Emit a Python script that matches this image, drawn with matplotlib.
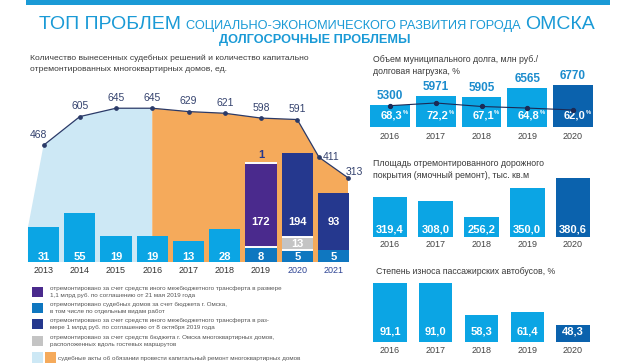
import numpy as np
import matplotlib
matplotlib.use('Agg')
import matplotlib.pyplot as plt
from matplotlib.patches import Rectangle

plt.rcParams['font.family'] = ['Liberation Sans', 'DejaVu Sans']

# ============================================================================
# DATA
# ============================================================================
years = [2013, 2014, 2015, 2016, 2017, 2018, 2019, 2020, 2021]
court_acts = [468, 605, 645, 645, 629, 621, 598, 591, 411, 313]
court_pos = [2013, 2014, 2015, 2016, 2017, 2018, 2019, 2020, 2020.6, 2021.4]
rep_city = [31, 55, 19, 19, 13, 28, 8, 5, 5]
rep_guest = [0, 0, 0, 0, 0, 0, 0, 13, 0]
rep_may = [0, 0, 0, 0, 0, 0, 172, 0, 0]
rep_oct = [0, 0, 0, 0, 0, 0, 1, 194, 93]

r_years = ['2016', '2017', '2018', '2019', '2020']
debt = [5300, 5971, 5905, 6565, 6770]
debt_load = [68.3, 72.2, 67.1, 64.8, 62.0]
road = [319.4, 308.0, 256.2, 350.0, 380.6]
bus_wear = [91.1, 91.0, 58.3, 61.4, 48.3]

legend_txt = [
    ('отремонтировано за счет средств иного межбюджетного трансферта в размере',
     '1,1 млрд руб. по соглашению от 21 мая 2019 года'),
    ('отремонтировано судебных домов за счет бюджета г. Омска,',
     'в том числе по отдельным видам работ'),
    ('отремонтировано за счет средств иного межбюджетного трансферта в раз-',
     'мере 1 млрд руб. по соглашению от 8 октября 2019 года'),
    ('отремонтировано за счет средств бюджета г. Омска многоквартирных домов,',
     'расположенных вдоль гостевых маршрутов'),
]
legend_last = 'судебные акты об обязании провести капитальный ремонт многоквартирных домов'

# ============================================================================
# STYLE
# ============================================================================
TITLE = '#1a9ad6'
CYAN = '#0ba5e4'
DARK = '#0b62ad'
CITY = '#0f77c0'
GUEST = '#c4c4c4'
MAY = '#4a2a8d'
OCT = '#25388e'
LBLUE = '#cde8f5'
ORANGE = '#f5aa5b'
LINE = '#2b3a68'
TXT = '#3a3a3a'

W, H = 620, 364
fig = plt.figure(figsize=(W / 100, H / 100), dpi=100)

def ax_px(l, t, r, b):
    return fig.add_axes([l / W, 1 - b / H, (r - l) / W, (b - t) / H])

def clean(ax):
    for s in ax.spines.values():
        s.set_visible(False)
    ax.yaxis.set_visible(False)
    ax.tick_params(axis='x', length=0)

# ============================================================================
# HEADER
# ============================================================================
fig.add_artist(Rectangle((26 / W, 1 - 5 / H), 584 / W, 5 / H, transform=fig.transFigure,
                         color=TITLE, lw=0))
rend = fig.canvas.get_renderer()
x = 39
for txt, fs in [('ТОП ПРОБЛЕМ', 14), ('СОЦИАЛЬНО-ЭКОНОМИЧЕСКОГО РАЗВИТИЯ ГОРОДА', 9.2),
                ('ОМСКА', 14)]:
    t = fig.text(x / W, 1 - 29 / H, txt, fontsize=fs, color=TITLE, va='baseline')
    x = t.get_window_extent(rend).x1 + 5
fig.text(315 / W, 1 - 43 / H, 'ДОЛГОСРОЧНЫЕ ПРОБЛЕМЫ', fontsize=9.2, color=TITLE,
         fontweight='bold', ha='center', va='baseline')

fig.text(30 / W, 1 - 58 / H, 'Количество вынесенных судебных решений и количество капитально',
         fontsize=6.1, color=TXT, va='center')
fig.text(30 / W, 1 - 69.5 / H, 'отремонтированных многоквартирных домов, ед.',
         fontsize=6.1, color=TXT, va='center')

# ============================================================================
# LEFT CHART: court acts (area) + repaired houses (bars)
# ============================================================================
axl = ax_px(25.4, 90, 355.25, 262)
ax = ax_px(25.4, 90, 355.25, 262)
axl.set_zorder(1); ax.set_zorder(2); ax.patch.set_visible(False)

P = 0.6
fwd = lambda v: np.sign(v) * np.abs(v) ** P
inv = lambda v: np.sign(v) * np.abs(v) ** (1 / P)
ax.set_yscale('function', functions=(fwd, inv))
ax.set_ylim(0, 450)
axl.set_ylim(-89, 732)
for a in (ax, axl):
    a.set_xlim(2012.5, 2021.6)
    clean(a)
axl.set_xticks([])

bw = 0.86
ylow = axl.get_ylim()[0]
# left wedge starts at the top-left corner of the first bar
edge = ax.transData.transform((years[0] - bw / 2, rep_city[0]))
v_edge = axl.transData.inverted().transform(edge)[1]
xs = [years[0] - bw / 2] + court_pos[:4] + [court_pos[3], years[0] - bw / 2]
ys = [v_edge] + court_acts[:4] + [ylow, ylow]
axl.fill(xs, ys, color=LBLUE, lw=0)
xs = court_pos[3:] + [court_pos[-1], court_pos[3]]
ys = court_acts[3:] + [ylow, ylow]
axl.fill(xs, ys, color=ORANGE, lw=0)
axl.plot(court_pos, court_acts, color=LINE, lw=0.9, marker='o', ms=2.4)

for i, (xp, v) in enumerate(zip(court_pos, court_acts)):
    off, ha = (0, 7.6), 'center'
    if i == 0:
        off = (-3.6, 7.2)
    elif i == len(court_acts) - 2:
        off, ha = (3, 0), 'left'
    elif i == len(court_acts) - 1:
        off, ha = (-2, 4.5), 'left'
    axl.annotate(str(v), (xp, v), xytext=off, textcoords='offset points', ha=ha, va='center',
                 fontsize=7.5, color='#34426e')

bar_cols = [CYAN] * 6 + [CITY] * 3
bottom = np.zeros(len(years))
for vals, col in [(rep_city, bar_cols), (rep_guest, GUEST), (rep_may, MAY), (rep_oct, OCT)]:
    ax.bar(years, vals, bw, bottom=bottom, color=col, lw=0)
    bottom += np.array(vals)

xt = ax.get_xaxis_transform()
for i, yr in enumerate(years):
    segs = [rep_city[i], rep_guest[i], rep_may[i], rep_oct[i]]
    cum = np.cumsum(segs)
    if i in (6, 7):
        for b in sorted(set(cum[:-1])):
            ax.hlines(b, yr - bw / 2, yr + bw / 2, color='white', lw=1.4)
    ax.text(yr, 5 / 172, str(rep_city[i]), transform=xt, ha='center', va='center',
            color='white', fontsize=8, fontweight='bold')
    big = max(rep_may[i], rep_oct[i])
    if big >= 10:
        ax.text(yr, 40 / 172, str(big), transform=xt, ha='center', va='center',
                color='white', fontsize=8, fontweight='bold')
    if rep_guest[i]:
        lo, hi = rep_city[i], rep_city[i] + rep_guest[i]
        ax.text(yr, inv((fwd(lo) + fwd(hi)) / 2), str(rep_guest[i]), ha='center',
                va='center', color='white', fontsize=8, fontweight='bold')
    if 0 < rep_oct[i] < 10:
        ax.annotate(str(rep_oct[i]), (yr, cum[-1]), xytext=(0, 1.5), textcoords='offset points',
                    ha='center', va='bottom', color=OCT, fontsize=8, fontweight='bold')

ax.set_xticks(years)
ax.set_xticklabels([str(y) for y in years], fontsize=6.5)
for lab, y in zip(ax.get_xticklabels(), years):
    lab.set_color('#2e4494' if y >= 2020 else '#333333')
ax.tick_params(axis='x', pad=3)

# legend
rows = [(287, MAY), (303, CITY), (319, OCT), (336, GUEST)]
for (y0, col), (l1, l2) in zip(rows, legend_txt):
    fig.add_artist(Rectangle((32 / W, 1 - (y0 + 10) / H), 11 / W, 10 / H,
                             transform=fig.transFigure, color=col, lw=0))
    fig.text(50 / W, 1 - (y0 + 1.5) / H, l1, fontsize=4.5, color='#555555', va='center')
    fig.text(50 / W, 1 - (y0 + 8.5) / H, l2, fontsize=4.5, color='#555555', va='center')
for x0, col in [(32, LBLUE), (45, ORANGE)]:
    fig.add_artist(Rectangle((x0 / W, 1 - 363 / H), 11 / W, 11 / H,
                             transform=fig.transFigure, color=col, lw=0))
fig.text(58 / W, 1 - 358 / H, legend_last, fontsize=4.5, color='#555555', va='center')

# ============================================================================
# RIGHT CHARTS
# ============================================================================
def panel(top, base, ylo, ppu, vals, width, lab_px, labels, pad):
    a = ax_px(362.5, top, 600.5, base)
    xpos = np.arange(len(vals))
    a.bar(xpos, vals, width, color=[CYAN] * 4 + [DARK], lw=0)
    a.set_xlim(-0.6, 4.6)
    a.set_ylim(ylo, ylo + (base - top) / ppu)
    clean(a)
    a.set_xticks(xpos)
    a.set_xticklabels(r_years, fontsize=6.5, color='#444444')
    a.tick_params(axis='x', pad=pad)
    tr = a.get_xaxis_transform()
    for xp, s in zip(xpos, labels):
        a.text(xp, lab_px / (base - top), s, transform=tr, ha='center', va='center',
               color='white', fontsize=8, fontweight='bold')
    return a, xpos

# debt
axd, xpos = panel(68, 127, 3645, 0.01343, debt, 0.87, 11, [''] * 5, 3.5)
trd = axd.get_xaxis_transform()
for xp, v, p in zip(xpos, debt, debt_load):
    axd.annotate(str(v), (xp, v), xytext=(0, 2), textcoords='offset points', ha='center',
                 va='bottom', color='#1c8ccd', fontsize=8.5, fontweight='bold')
    axd.text(xp + 0.27, 11 / 59, f'{p:.1f}'.replace('.', ','), transform=trd, ha='right',
             va='center', color='white', fontsize=8, fontweight='bold')
    axd.text(xp + 0.28, 14 / 59, '%', transform=trd, ha='left', va='center',
             color='white', fontsize=4.2, fontweight='bold')
axdl = ax_px(362.5, 68, 600.5, 127)
axdl.patch.set_visible(False)
axdl.set_xlim(-0.6, 4.6)
axdl.set_ylim(37.2, 123.2)
axdl.axis('off')
axdl.plot(xpos, debt_load, color='#1c2a55', lw=0.8, marker='o', ms=2.8)
fig.text(373 / W, 1 - 60 / H, 'Объем муниципального долга, млн руб./', fontsize=6.3,
         color=TXT, va='center')
fig.text(373 / W, 1 - 72 / H, 'долговая нагрузка, %', fontsize=6.3, color=TXT, va='center')

# road
panel(158, 237, 193, 0.3145, road, 0.76, 7,
      [f'{v:.1f}'.replace('.', ',') for v in road], 2.5)
fig.text(373 / W, 1 - 164 / H, 'Площадь отремонтированного дорожного', fontsize=6.3,
         color=TXT, va='center')
fig.text(373 / W, 1 - 175 / H, 'покрытия (ямочный ремонт), тыс. кв.м', fontsize=6.3,
         color=TXT, va='center')

# bus
panel(276, 342, 31, 0.98, bus_wear, 0.73, 10,
      [f'{v:.1f}'.replace('.', ',') for v in bus_wear], 3)
fig.text(376 / W, 1 - 271 / H, 'Степень износа пассажирских автобусов, %', fontsize=6.3,
         color=TXT, va='center')

fig.savefig('out.png', dpi=100)
